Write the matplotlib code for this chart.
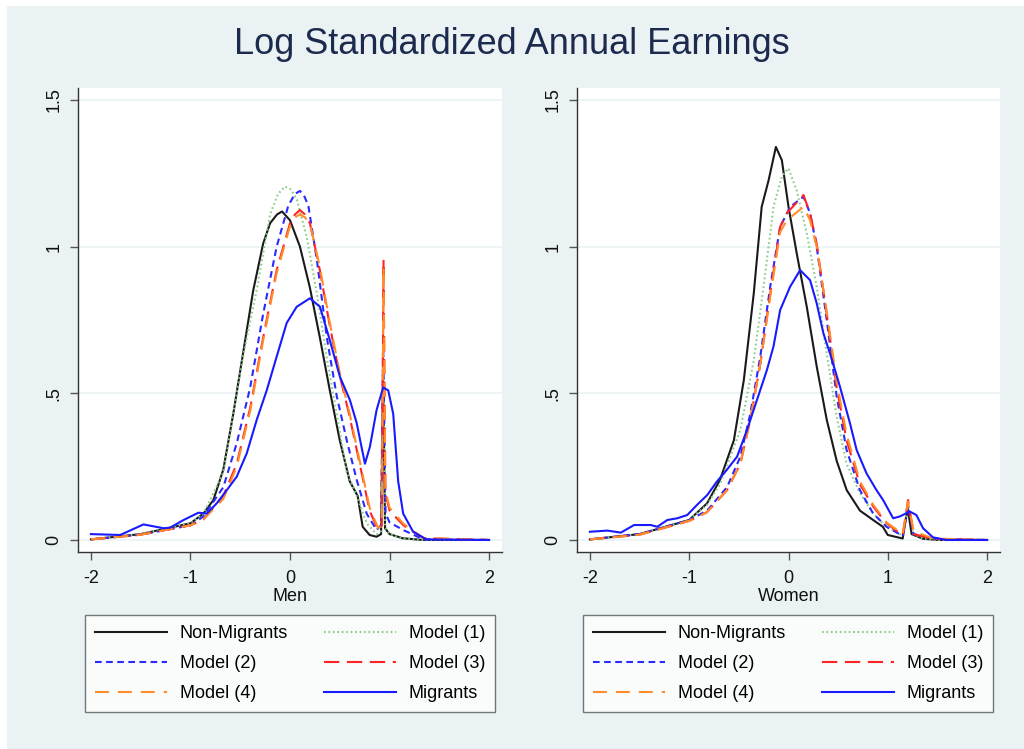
import numpy as np
import matplotlib.pyplot as plt
from matplotlib.patches import Rectangle

plt.rcParams['font.family'] = ['Liberation Sans', 'DejaVu Sans']
plt.rcParams['lines.scale_dashes'] = False

# ---- Men ----
men_nonmig_x = [-2.0, -1.5, -1.0, -0.87, -0.77, -0.67, -0.57, -0.47, -0.37, -0.27, -0.2, -0.13, -0.08, 0.0, 0.1,
                0.2, 0.3, 0.4, 0.5, 0.6, 0.68, 0.73, 0.8, 0.87, 0.915, 0.936, 0.955, 1.0, 1.13, 1.33, 2.0]
men_nonmig_y = [0.002, 0.02, 0.057, 0.09, 0.136, 0.24, 0.43, 0.64, 0.85, 1.01, 1.08, 1.11, 1.12, 1.09, 1.0,
                0.86, 0.69, 0.51, 0.34, 0.20, 0.15, 0.045, 0.017, 0.011, 0.02, 0.55, 0.04, 0.02, 0.006, 0.0, 0.0]

men_m1_x = [-2.0, -1.5, -1.0, -0.87, -0.67, -0.47, -0.33, -0.2, -0.12, -0.05, 0.01, 0.07, 0.17, 0.27, 0.37, 0.47,
            0.57, 0.67, 0.77, 0.87, 0.915, 0.936, 0.955, 1.0, 1.13, 1.33, 2.0]
men_m1_y = [0.002, 0.02, 0.057, 0.09, 0.23, 0.63, 0.86, 1.11, 1.18, 1.205, 1.195, 1.16, 1.03, 0.84, 0.62, 0.43,
            0.23, 0.15, 0.057, 0.02, 0.03, 0.70, 0.045, 0.02, 0.005, 0.0, 0.0]

men_m2_x = [-2.0, -1.5, -1.0, -0.87, -0.67, -0.535, -0.4, -0.27, -0.134, -0.017, 0.05, 0.1, 0.14, 0.184, 0.27,
            0.37, 0.47, 0.57, 0.67, 0.77, 0.87, 0.915, 0.936, 0.96, 1.0, 1.137, 1.34, 2.0]
men_m2_y = [0.002, 0.018, 0.05, 0.08, 0.18, 0.33, 0.52, 0.77, 1.0, 1.14, 1.18, 1.19, 1.175, 1.14, 0.955,
            0.69, 0.49, 0.34, 0.205, 0.09, 0.034, 0.05, 0.66, 0.09, 0.06, 0.034, 0.002, 0.0]

men_m3_x = [-2.0, -1.5, -1.0, -0.87, -0.67, -0.535, -0.4, -0.27, -0.134, 0.0, 0.05, 0.1, 0.15, 0.2, 0.3, 0.4,
            0.5, 0.6, 0.7, 0.8, 0.886, 0.922, 0.94, 0.958, 1.0, 1.14, 1.34, 2.0]
men_m3_y = [0.002, 0.018, 0.05, 0.07, 0.15, 0.26, 0.45, 0.69, 0.92, 1.08, 1.11, 1.125, 1.11, 1.08, 0.92, 0.73,
            0.56, 0.42, 0.26, 0.10, 0.034, 0.05, 0.955, 0.16, 0.10, 0.05, 0.006, 0.0]

men_m4_x = [-2.0, -1.5, -1.0, -0.87, -0.67, -0.535, -0.4, -0.27, -0.134, 0.0, 0.05, 0.1, 0.15, 0.2, 0.3, 0.4,
            0.5, 0.6, 0.7, 0.8, 0.886, 0.922, 0.94, 0.958, 1.0, 1.14, 1.34, 2.0]
men_m4_y = [0.002, 0.018, 0.05, 0.07, 0.14, 0.25, 0.44, 0.68, 0.91, 1.07, 1.1, 1.11, 1.1, 1.08, 0.93, 0.74,
            0.57, 0.43, 0.27, 0.11, 0.04, 0.05, 0.93, 0.17, 0.11, 0.055, 0.007, 0.0]

men_mig_x = [-2.0, -1.706, -1.472, -1.271, -1.204, -1.07, -0.92, -0.836, -0.736, -0.635, -0.535, -0.435, -0.334,
             -0.234, -0.134, -0.033, 0.067, 0.2, 0.301, 0.401, 0.502, 0.602, 0.669, 0.753, 0.803, 0.87, 0.936,
             0.987, 1.037, 1.087, 1.137, 1.237, 1.371, 2.0]
men_mig_y = [0.02, 0.017, 0.053, 0.04, 0.042, 0.068, 0.093, 0.09, 0.125, 0.17, 0.216, 0.295, 0.41,
             0.51, 0.625, 0.74, 0.795, 0.824, 0.795, 0.68, 0.556, 0.477, 0.40, 0.26, 0.318, 0.443, 0.52,
             0.51, 0.43, 0.2, 0.09, 0.028, 0.002, 0.0]

# ---- Women ----
wom_nonmig_x = [-2.0, -1.5, -1.0, -0.82, -0.69, -0.55, -0.45, -0.35, -0.27, -0.2, -0.127, -0.067, 0.0, 0.083,
                0.184, 0.285, 0.385, 0.485, 0.586, 0.72, 0.853, 0.95, 1.0, 1.15, 1.2, 1.24, 1.355, 1.52, 2.0]
wom_nonmig_y = [0.002, 0.02, 0.068, 0.125, 0.205, 0.34, 0.545, 0.84, 1.136, 1.227, 1.34, 1.295, 1.136, 0.977,
                0.795, 0.59, 0.41, 0.27, 0.17, 0.10, 0.068, 0.045, 0.017, 0.005, 0.11, 0.02, 0.004, 0.0, 0.0]

wom_m1_x = [-2.0, -1.5, -1.0, -0.82, -0.69, -0.485, -0.351, -0.251, -0.151, -0.067, 0.0, 0.084, 0.184, 0.284,
            0.385, 0.485, 0.585, 0.719, 0.853, 0.987, 1.15, 1.204, 1.26, 1.355, 1.52, 2.0]
wom_m1_y = [0.002, 0.02, 0.068, 0.12, 0.19, 0.375, 0.61, 0.864, 1.136, 1.24, 1.267, 1.19, 1.045, 0.864,
            0.636, 0.42, 0.26, 0.16, 0.09, 0.045, 0.015, 0.125, 0.02, 0.005, 0.0, 0.0]

wom_m2_x = [-2.0, -1.5, -1.0, -0.82, -0.619, -0.485, -0.385, -0.284, -0.184, -0.084, 0.017, 0.151, 0.217, 0.284,
            0.385, 0.485, 0.585, 0.719, 0.853, 0.987, 1.15, 1.204, 1.26, 1.455, 2.0]
wom_m2_y = [0.002, 0.02, 0.068, 0.1, 0.18, 0.284, 0.43, 0.625, 0.864, 1.068, 1.136, 1.17, 1.114, 1.0,
            0.75, 0.49, 0.307, 0.17, 0.09, 0.045, 0.014, 0.114, 0.02, 0.004, 0.0]

wom_m3_x = [-2.0, -1.5, -1.0, -0.82, -0.619, -0.485, -0.385, -0.284, -0.184, -0.084, -0.017, 0.151, 0.217, 0.284,
            0.385, 0.485, 0.585, 0.719, 0.853, 0.987, 1.15, 1.204, 1.26, 1.455, 2.0]
wom_m3_y = [0.002, 0.018, 0.065, 0.095, 0.17, 0.26, 0.41, 0.6, 0.84, 1.068, 1.114, 1.176, 1.114, 1.01,
            0.77, 0.52, 0.34, 0.19, 0.114, 0.057, 0.015, 0.136, 0.02, 0.004, 0.0]

wom_m4_x = [-2.0, -1.5, -1.0, -0.82, -0.619, -0.485, -0.385, -0.284, -0.184, -0.084, -0.017, 0.151, 0.217, 0.284,
            0.385, 0.485, 0.585, 0.719, 0.853, 0.987, 1.15, 1.204, 1.26, 1.455, 2.0]
wom_m4_y = [0.002, 0.018, 0.065, 0.095, 0.17, 0.26, 0.41, 0.6, 0.83, 1.05, 1.09, 1.136, 1.09, 1.0,
            0.78, 0.54, 0.36, 0.2, 0.12, 0.06, 0.02, 0.13, 0.03, 0.005, 0.0]

wom_mig_x = [-2.0, -1.823, -1.689, -1.555, -1.388, -1.321, -1.221, -1.12, -1.02, -0.92, -0.819, -0.719, -0.619,
             -0.518, -0.418, -0.318, -0.217, -0.151, -0.084, 0.017, 0.117, 0.217, 0.284, 0.351, 0.418, 0.518,
             0.619, 0.686, 0.786, 0.886, 0.953, 1.054, 1.12, 1.221, 1.288, 1.355, 1.455, 1.589, 2.0]
wom_mig_y = [0.028, 0.032, 0.025, 0.051, 0.051, 0.045, 0.068, 0.074, 0.085, 0.12, 0.153, 0.2, 0.24,
             0.284, 0.375, 0.477, 0.58, 0.66, 0.784, 0.864, 0.92, 0.886, 0.807, 0.705, 0.636, 0.523,
             0.398, 0.307, 0.227, 0.17, 0.136, 0.074, 0.08, 0.097, 0.085, 0.04, 0.009, 0.0, 0.0]

labels = ["Non-Migrants", "Model (1)", "Model (2)", "Model (3)", "Model (4)", "Migrants"]
styles = {
    "Non-Migrants": dict(color="#1a1a1a", linestyle="-"),
    "Model (1)": dict(color="#86cc86", linestyle=(0, (1.2, 2.0))),
    "Model (2)": dict(color="#2a2aff", linestyle=(0, (4.8, 3.2))),
    "Model (3)": dict(color="#ff2424", linestyle=(0, (11, 5.5))),
    "Model (4)": dict(color="#ff8c2a", linestyle=(0, (10, 6.5))),
    "Migrants": dict(color="#1a1aff", linestyle="-"),
}

panels = [
    ("Men", [men_nonmig_x, men_m1_x, men_m2_x, men_m3_x, men_m4_x, men_mig_x],
     [men_nonmig_y, men_m1_y, men_m2_y, men_m3_y, men_m4_y, men_mig_y]),
    ("Women", [wom_nonmig_x, wom_m1_x, wom_m2_x, wom_m3_x, wom_m4_x, wom_mig_x],
     [wom_nonmig_y, wom_m1_y, wom_m2_y, wom_m3_y, wom_m4_y, wom_mig_y]),
]

bg = "#eaf2f3"
W, H = 1024, 749
fig = plt.figure(figsize=(W / 100, H / 100), dpi=100)
fig.patch.set_facecolor("white")
fig.patches.append(Rectangle((7 / W, 0), 1 - 7 / W, 1 - 6 / H, transform=fig.transFigure,
                             facecolor=bg, edgecolor="none", zorder=-10))

fig.text(0.5, 1 - 45 / H, "Log Standardized Annual Earnings", ha="center", va="center",
         fontsize=26, color="#1c2a4e")

ax_boxes = [(78, 502), (577, 1000)]
leg_boxes = [(85, 495), (583, 993)]
top, bottom = 88, 552

for (name, xs, ys), (x0, x1), (l0, l1) in zip(panels, ax_boxes, leg_boxes):
    ax = fig.add_axes([x0 / W, 1 - bottom / H, (x1 - x0) / W, (bottom - top) / H])
    ax.set_facecolor("white")
    for lab, x, y in zip(labels, xs, ys):
        ax.plot(x, y, lw=1.5, label=lab, **styles[lab])
    ax.set_xlim(-2.13, 2.13)
    ax.set_ylim(-0.041, 1.541)
    ax.set_xticks([-2, -1, 0, 1, 2])
    ax.set_xticklabels(["-2", "-1", "0", "1", "2"])
    ax.set_yticks([0, 0.5, 1, 1.5])
    ax.set_yticklabels(["0", ".5", "1", "1.5"], rotation=90, va="center")
    ax.yaxis.grid(True, color=bg, lw=1.2)
    ax.set_axisbelow(True)
    for s in ["top", "right"]:
        ax.spines[s].set_visible(False)
    for s in ["left", "bottom"]:
        ax.spines[s].set_color("#333333")
        ax.spines[s].set_linewidth(1.0)
    ax.tick_params(axis="both", direction="out", length=6, width=1, color="#555555",
                   labelsize=13, labelcolor="#111111", pad=5)
    ax.tick_params(axis="x", pad=7)
    ax.set_xlabel(name, fontsize=13, color="#111111", labelpad=1)

    handles, labs = ax.get_legend_handles_labels()
    order = [0, 2, 4, 1, 3, 5]
    leg = fig.legend([handles[i] for i in order], [labs[i] for i in order], ncol=2,
                     loc="upper left", bbox_to_anchor=(l0 / W, 1 - 712 / H, (l1 - l0) / W, 97 / H),
                     mode="expand", fontsize=13, frameon=True, fancybox=False,
                     handlelength=4.0, handletextpad=0.7, labelspacing=0.72,
                     borderaxespad=0, borderpad=0.55, columnspacing=1.6)
    leg.get_frame().set_edgecolor("#555555")
    leg.get_frame().set_linewidth(1.0)

fig.savefig("out.png", dpi=100, facecolor=fig.get_facecolor())
